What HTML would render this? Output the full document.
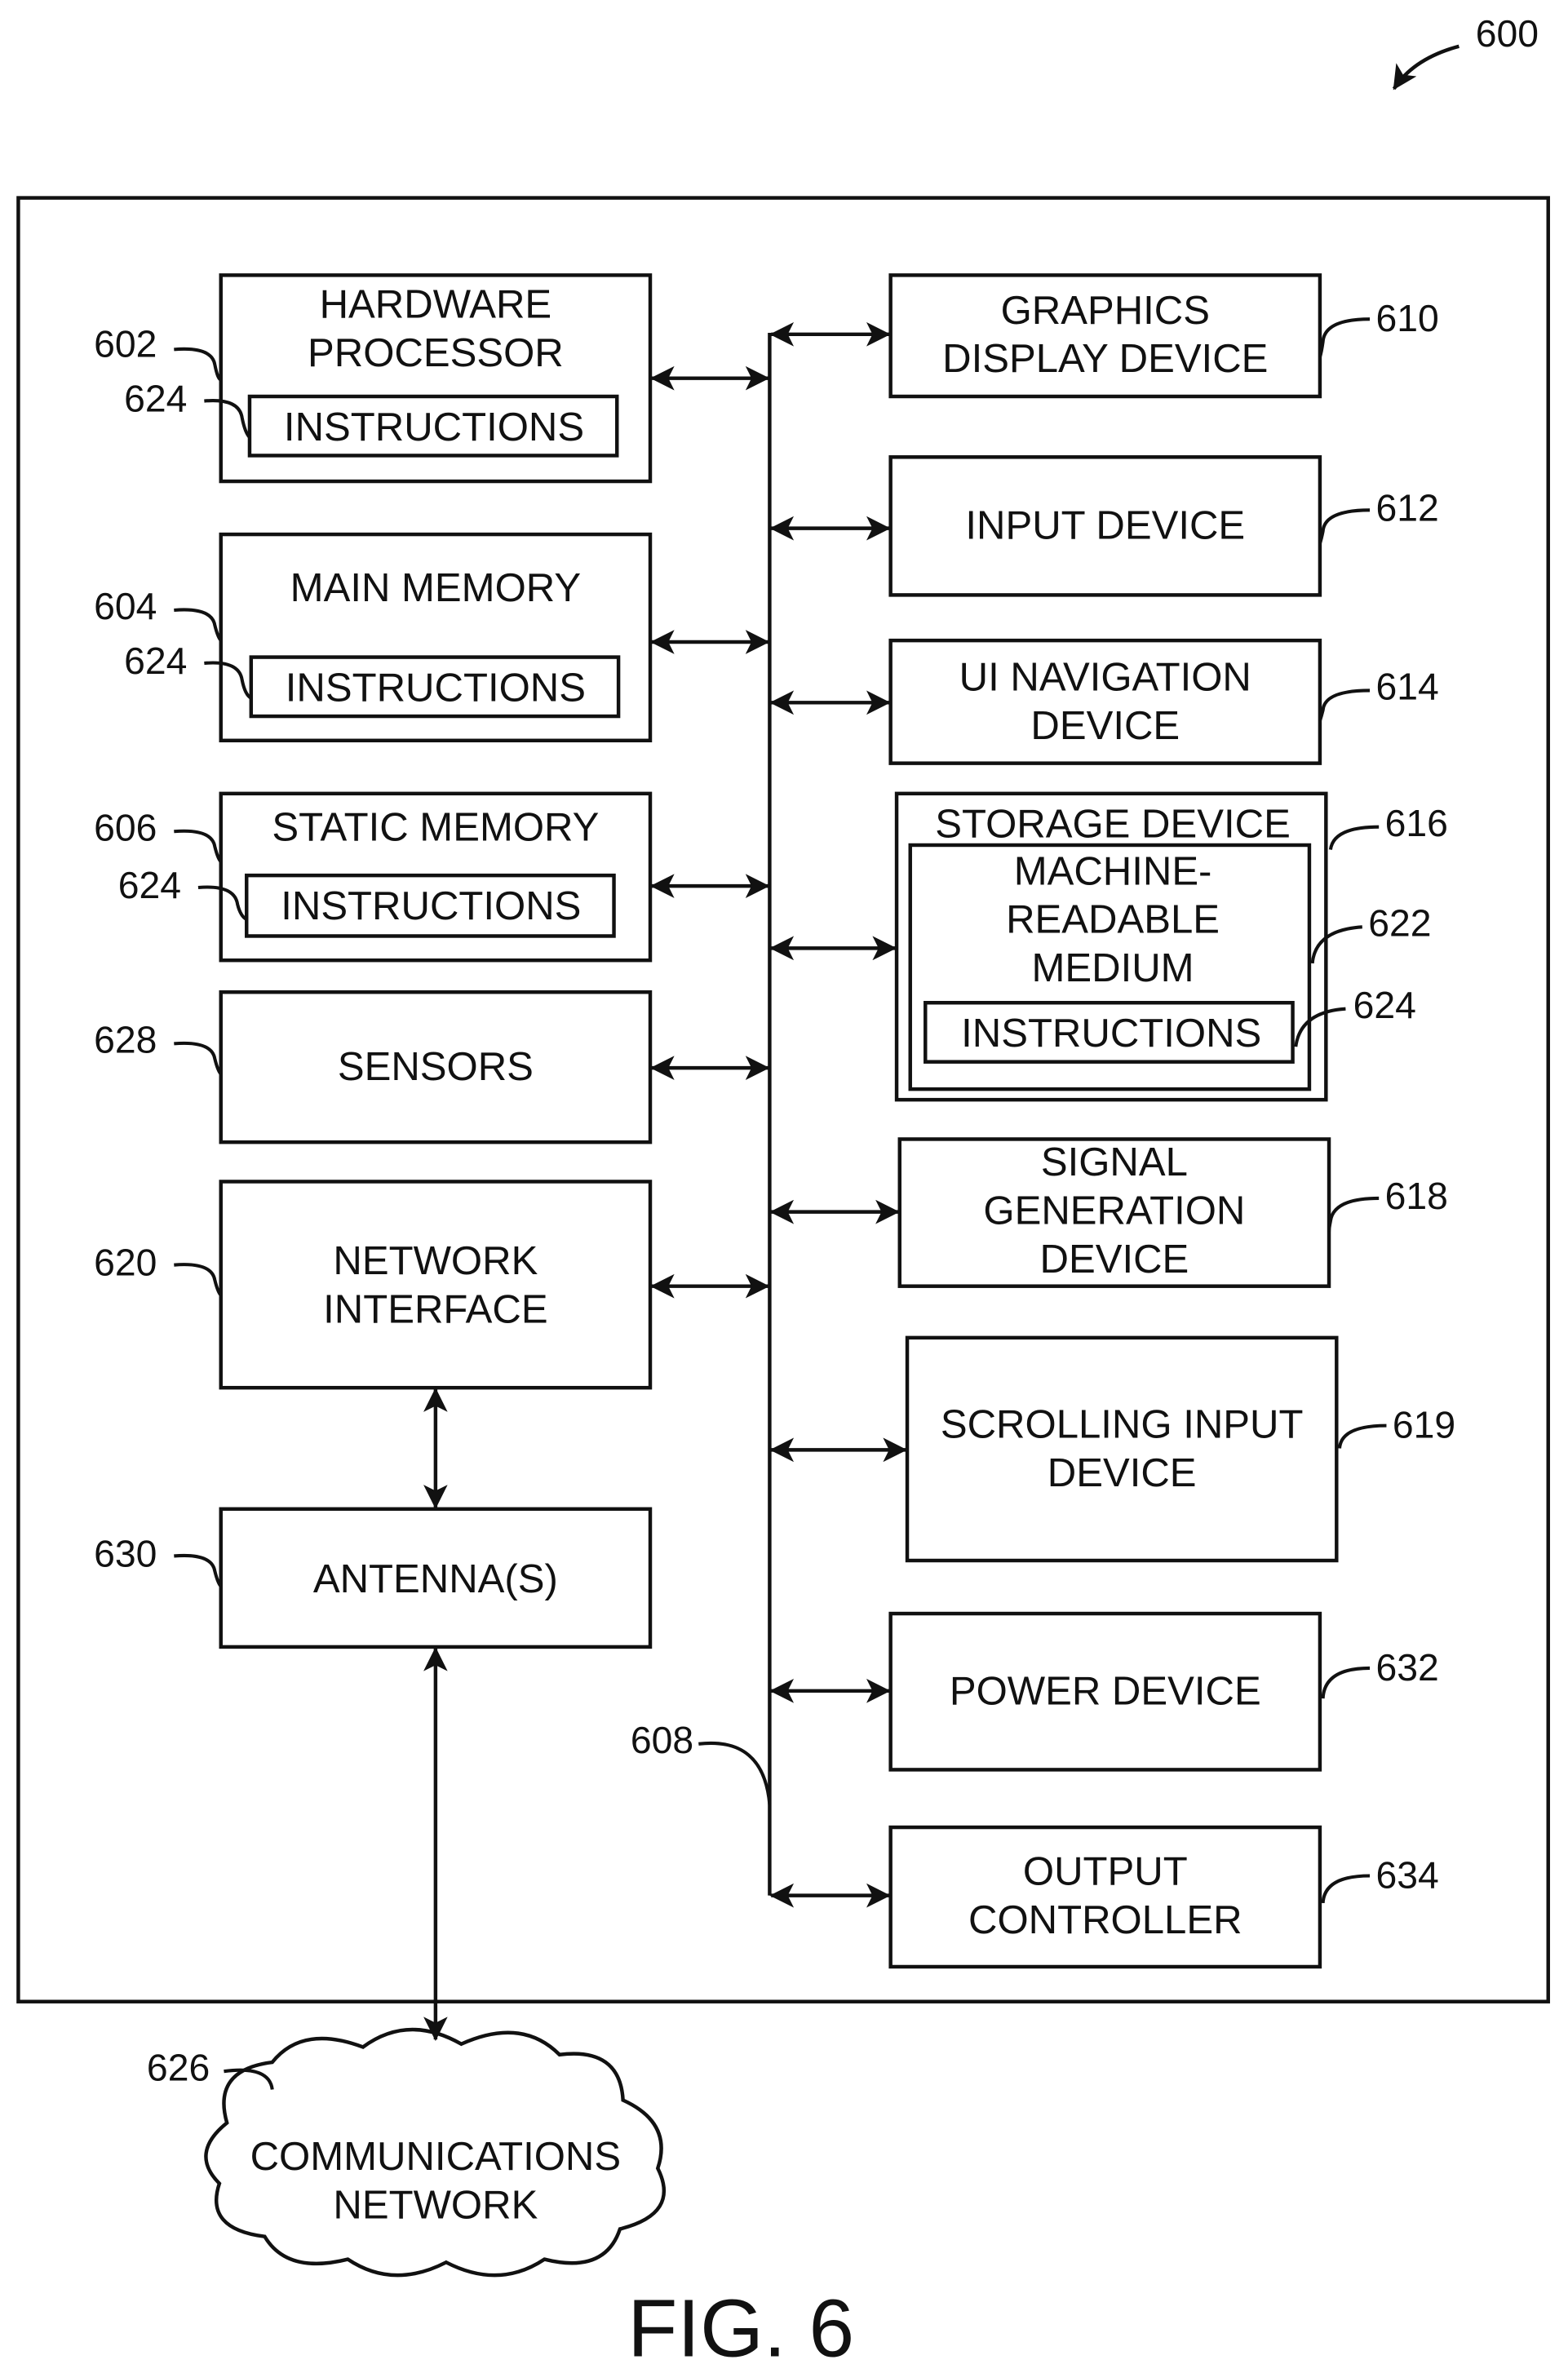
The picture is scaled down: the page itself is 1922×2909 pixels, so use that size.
<!DOCTYPE html>
<html><head><style>html,body{margin:0;padding:0;background:#fff}svg{display:block}</style></head>
<body>
<svg width="1922" height="2909" viewBox="0 0 1030 1559" xmlns="http://www.w3.org/2000/svg">
<defs>
<marker id="a" markerWidth="16" markerHeight="16" refX="15" refY="8" orient="auto-start-reverse" markerUnits="userSpaceOnUse"><path d="M0,0 L16,8 L0,16 L4,8 Z" fill="#111"/></marker>
</defs>
<g transform="translate(12,130) scale(0.9931,0.9958) translate(-12,-130)">
<g fill="none" stroke="#111" stroke-width="2.4">
<rect x="12" y="130" width="1012" height="1190"/>
<rect x="146" y="181" width="284" height="136"/>
<rect x="165" y="261" width="243" height="39"/>
<rect x="146" y="352" width="284" height="136"/>
<rect x="166" y="433" width="243" height="39"/>
<rect x="146" y="523" width="284" height="110"/>
<rect x="163" y="577" width="243" height="40"/>
<rect x="146" y="654" width="284" height="99"/>
<rect x="146" y="779" width="284" height="136"/>
<rect x="146" y="995" width="284" height="91"/>
<rect x="589" y="181" width="284" height="80"/>
<rect x="589" y="301" width="284" height="91"/>
<rect x="589" y="422" width="284" height="81"/>
<rect x="593" y="523" width="284" height="202"/>
<rect x="602" y="557" width="264" height="161"/>
<rect x="612" y="661" width="243" height="39"/>
<rect x="595" y="751" width="284" height="97"/>
<rect x="600" y="882" width="284" height="147"/>
<rect x="589" y="1064" width="284" height="103"/>
<rect x="589" y="1205" width="284" height="92"/>
<line x1="509" y1="219" x2="509" y2="1250"/>
</g>
<g stroke="#111" stroke-width="2.4" marker-start="url(#a)" marker-end="url(#a)">
<line x1="431" y1="249" x2="508" y2="249"/>
<line x1="431" y1="423" x2="508" y2="423"/>
<line x1="431" y1="584" x2="508" y2="584"/>
<line x1="431" y1="704" x2="508" y2="704"/>
<line x1="431" y1="848" x2="508" y2="848"/>
<line x1="288" y1="916" x2="288" y2="994"/>
<line x1="288" y1="1087" x2="288" y2="1345"/>
<line x1="510" y1="220" x2="588" y2="220"/>
<line x1="510" y1="348" x2="588" y2="348"/>
<line x1="510" y1="463" x2="588" y2="463"/>
<line x1="510" y1="625" x2="592" y2="625"/>
<line x1="510" y1="799" x2="594" y2="799"/>
<line x1="510" y1="956" x2="599" y2="956"/>
<line x1="510" y1="1115" x2="588" y2="1115"/>
<line x1="510" y1="1250" x2="588" y2="1250"/>
</g>
<path d="M965,30 Q935,38 922,58" fill="none" stroke="#111" stroke-width="2.4" marker-end="url(#a)"/>
<path d="M150,1400 Q140,1365 180,1360 Q200,1335 240,1350 Q270,1328 305,1348 Q345,1330 370,1355 Q410,1350 412,1385 Q445,1400 435,1430 Q450,1460 410,1470 Q400,1500 360,1490 Q330,1510 295,1492 Q260,1510 230,1490 Q190,1500 175,1475 Q135,1470 145,1440 Q125,1420 150,1400 Z" fill="none" stroke="#111" stroke-width="2.4"/>
<g fill="none" stroke="#111" stroke-width="2.2">
<path d="M115,230 Q140,228 142,240 Q144,250 146,250"/>
<path d="M135,264 Q158,262 160,275 Q162,285 165,288"/>
<path d="M115,402 Q140,400 142,412 Q144,420 146,422"/>
<path d="M135,437 Q158,435 160,448 Q162,458 166,460"/>
<path d="M115,548 Q140,546 142,558 Q144,566 146,568"/>
<path d="M131,585 Q155,583 157,596 Q159,604 163,606"/>
<path d="M115,688 Q140,686 142,698 Q144,706 146,708"/>
<path d="M115,834 Q140,832 142,844 Q144,852 146,854"/>
<path d="M115,1026 Q140,1024 142,1036 Q144,1044 146,1046"/>
<path d="M906,210 Q876,210 875,225 Q874,232 873,235"/>
<path d="M906,336 Q876,336 875,350 Q874,355 873,358"/>
<path d="M906,455 Q876,455 875,468 Q874,472 873,475"/>
<path d="M912,545 Q882,545 880,560"/>
<path d="M901,611 Q870,613 868,635"/>
<path d="M890,665 Q860,667 857,690"/>
<path d="M912,790 Q882,790 880,805 Q879,810 879,812"/>
<path d="M917,940 Q887,940 886,955"/>
<path d="M906,1100 Q876,1100 875,1120"/>
<path d="M906,1237 Q876,1237 875,1255"/>
<path d="M462,1150 Q505,1145 509,1190"/>
<path d="M148,1366 Q178,1362 180,1378"/>
</g>
<g font-family="Liberation Sans, sans-serif" font-size="26.5" fill="#111" text-anchor="middle">
<text x="288" y="209">HARDWARE</text><text x="288" y="241">PROCESSOR</text>
<text x="287" y="290">INSTRUCTIONS</text>
<text x="288" y="396">MAIN MEMORY</text>
<text x="288" y="462">INSTRUCTIONS</text>
<text x="288" y="554">STATIC MEMORY</text>
<text x="285" y="606">INSTRUCTIONS</text>
<text x="288" y="712">SENSORS</text>
<text x="288" y="840">NETWORK</text><text x="288" y="872">INTERFACE</text>
<text x="288" y="1050">ANTENNA(S)</text>
<text x="731" y="213">GRAPHICS</text><text x="731" y="245">DISPLAY DEVICE</text>
<text x="731" y="355">INPUT DEVICE</text>
<text x="731" y="455">UI NAVIGATION</text><text x="731" y="487">DEVICE</text>
<text x="736" y="552">STORAGE DEVICE</text>
<text x="736" y="583">MACHINE-</text><text x="736" y="615">READABLE</text><text x="736" y="647">MEDIUM</text>
<text x="735" y="690">INSTRUCTIONS</text>
<text x="737" y="775">SIGNAL</text><text x="737" y="807">GENERATION</text><text x="737" y="839">DEVICE</text>
<text x="742" y="948">SCROLLING INPUT</text><text x="742" y="980">DEVICE</text>
<text x="731" y="1124">POWER DEVICE</text>
<text x="731" y="1243">OUTPUT</text><text x="731" y="1275">CONTROLLER</text>
<text x="288" y="1431">COMMUNICATIONS</text><text x="288" y="1463">NETWORK</text>
</g>
<g font-family="Liberation Sans, sans-serif" font-size="25" fill="#111">
<text x="62" y="235">602</text><text x="82" y="271">624</text>
<text x="62" y="408">604</text><text x="82" y="444">624</text>
<text x="62" y="554">606</text><text x="78" y="592">624</text>
<text x="62" y="694">628</text><text x="62" y="841">620</text><text x="62" y="1033">630</text>
<text x="910" y="218">610</text><text x="910" y="343">612</text><text x="910" y="461">614</text>
<text x="916" y="551">616</text><text x="905" y="617">622</text><text x="895" y="671">624</text>
<text x="916" y="797">618</text><text x="921" y="948">619</text>
<text x="910" y="1108">632</text><text x="910" y="1245">634</text>
<text x="417" y="1156">608</text><text x="97" y="1372">626</text>
<text x="976" y="30">600</text>
</g>
<text x="490" y="1554" font-family="Liberation Sans, sans-serif" font-size="54" fill="#111" text-anchor="middle">FIG. 6</text>
</g>
</svg>
</body></html>
